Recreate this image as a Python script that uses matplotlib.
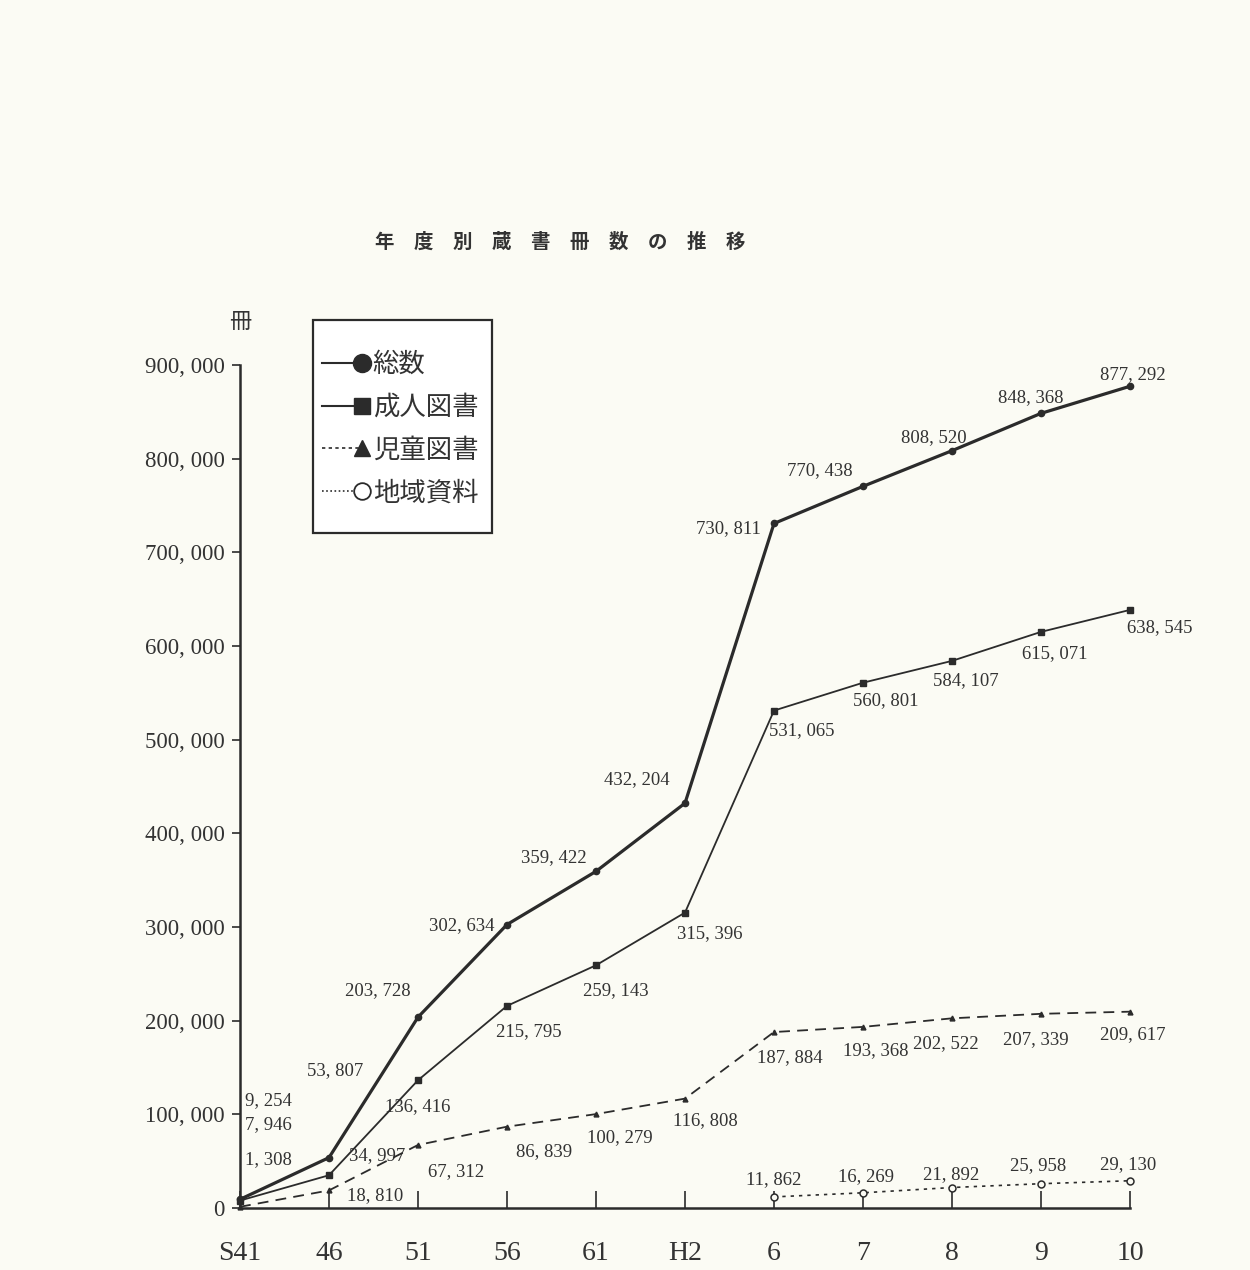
import numpy as np
import matplotlib
matplotlib.use('Agg')
import matplotlib.pyplot as plt
from matplotlib.lines import Line2D
from matplotlib.patches import Rectangle
from matplotlib.legend_handler import HandlerLine2D

plt.rcParams['font.family'] = ['Noto Sans CJK JP', 'DejaVu Sans']

# 年度 (x categories)
years = ['S41', '46', '51', '56', '61', 'H2', '6', '7', '8', '9', '10']

# 蔵書冊数
total = [9254, 53807, 203728, 302634, 359422, 432204, 730811, 770438, 808520, 848368, 877292]
adult = [7946, 34997, 136416, 215795, 259143, 315396, 531065, 560801, 584107, 615071, 638545]
child = [1308, 18810, 67312, 86839, 100279, 116808, 187884, 193368, 202522, 207339, 209617]
local_years = ['6', '7', '8', '9', '10']
local = [11862, 16269, 21892, 25958, 29130]

series_names = ['総数', '成人図書', '児童図書', '地域資料']
yticks = [0, 100000, 200000, 300000, 400000, 500000, 600000, 700000, 800000, 900000]

# label offsets in pixels (dx, dy) from each point
off_total = [(28, 99), (6, 87), (-40, 27), (-45, -1), (-42, 14), (-48, 24),
             (-46, -5), (-43, 16), (-18, 13), (-10, 16), (3, 12)]
off_adult = [(28, 76), (48, 20), (0, -26), (22, -26), (20, -25), (25, -21),
             (28, -20), (23, -18), (14, -20), (14, -22), (30, -18)]
off_child = [(28, 47), (46, -5), (38, -27), (37, -25), (24, -24), (20, -22),
             (16, -26), (13, -24), (-6, -25), (-5, -26), (3, -23)]
off_local = [(0, 17), (3, 16), (-1, 13), (-3, 18), (-2, 16)]

bg = '#fbfbf4'
ink = '#2b2b2b'
txt = '#333333'


def fmt(v):
    return f'{v:,}'.replace(',', ', ')


fig = plt.figure(figsize=(12.5, 12.7), dpi=100, facecolor=bg)
ax = fig.add_axes([0.192, 0.0488, 0.712, 0.6638], facecolor=bg)

x = np.arange(len(years))
xl = np.array([years.index(y) for y in local_years])

ax.plot(x, total, color=ink, lw=2.3, marker='o', ms=4.5, clip_on=False, zorder=4)
ax.plot(x, adult, color=ink, lw=1.3, marker='s', ms=4.5, clip_on=False, zorder=4)
ax.plot(x, child, color=ink, lw=1.3, ls=(0, (6, 4)), marker='^', ms=3.5, clip_on=False, zorder=4)
ax.plot(xl, local, color=ink, lw=1.2, ls=(0, (2, 3)), marker='o', ms=5,
        mfc=bg, mec=ink, mew=1.1, clip_on=False, zorder=4)

numfont = dict(family='Liberation Serif', fontsize=13.5, color=txt)


def put_labels(xs, vals, offs):
    for xi, v, (dx, dy) in zip(xs, vals, offs):
        ax.annotate(fmt(v), (xi, v), xytext=(dx, dy), textcoords='offset pixels',
                    ha='center', va='center', **numfont)


put_labels(x, total, off_total)
put_labels(x, adult, off_adult)
put_labels(x, child, off_child)
put_labels(xl, local, off_local)

ax.set_xlim(0, 10)
ax.set_ylim(0, 900000)
ax.set_xticks(x)
ax.set_xticklabels(years, family='Liberation Serif', fontsize=20, color=txt)
ax.set_yticks(yticks)
ax.set_yticklabels([fmt(v) for v in yticks], family='Liberation Serif', fontsize=16.5,
                   color=txt)
ax.tick_params(axis='x', direction='in', length=12, width=1.2, pad=24, colors=ink)
ax.tick_params(axis='y', direction='out', length=6, width=1.2, pad=5, colors=ink)
ax.tick_params(axis='both', labelcolor=txt)
for s in ['top', 'right']:
    ax.spines[s].set_visible(False)
for s in ['left', 'bottom']:
    ax.spines[s].set_linewidth(1.8)
    ax.spines[s].set_color(ink)

ax.text(0, 1.052, '冊', transform=ax.transAxes, ha='center', va='center',
        fontsize=16, color=txt)

fig.text(0.448, 0.809, '年　度　別　蔵　書　冊　数　の　推　移', ha='center', va='center',
         fontsize=14, fontweight='bold', color=txt)


class EndMarker(HandlerLine2D):
    def create_artists(self, *args, **kwargs):
        arts = super().create_artists(*args, **kwargs)
        arts[0].set_markevery([2])
        return arts


handles = [
    Line2D([], [], color=ink, lw=1.5, marker='o', ms=13),
    Line2D([], [], color=ink, lw=1.5, marker='s', ms=12),
    Line2D([], [], color=ink, lw=1.2, ls=(0, (2, 2)), marker='^', ms=12),
    Line2D([], [], color=ink, lw=1.2, ls=(0, (1, 1.5)), marker='o', ms=12,
           mfc='white', mec=ink, mew=1.3),
]

# legend frame drawn separately so its box can be sized freely
fig.patches.append(Rectangle((313 / 1250, 1 - 533 / 1270), 179 / 1250, 213 / 1270,
                             transform=fig.transFigure, facecolor='white',
                             edgecolor=ink, lw=1.6, zorder=5))
leg = fig.legend(handles, series_names, loc='upper left',
                 bbox_to_anchor=(322 / 1250, 1 - 351 / 1270), bbox_transform=fig.transFigure,
                 borderaxespad=0, borderpad=0, frameon=False, fontsize=19,
                 handlelength=1.5, handletextpad=0.42, labelspacing=0.6,
                 numpoints=1, handler_map={Line2D: EndMarker()})
leg.set_zorder(6)
for t in leg.get_texts():
    t.set_color(txt)

fig.savefig('out.png', dpi=100, facecolor=bg)
